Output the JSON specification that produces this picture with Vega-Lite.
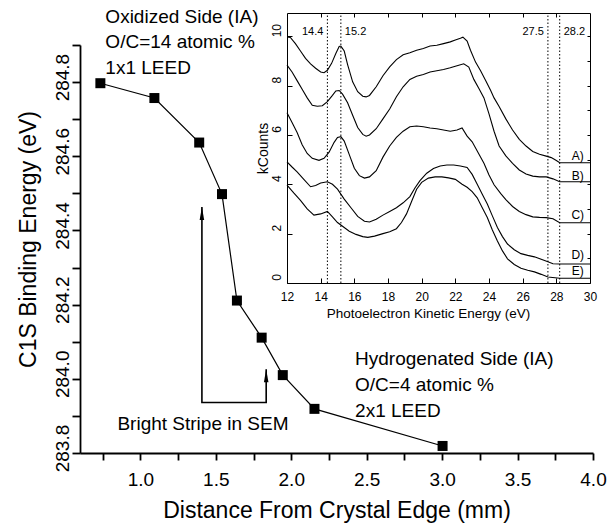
{
  "$schema": "https://vega.github.io/schema/vega-lite/v6.json",
  "width": 513,
  "height": 440,
  "autosize": "none",
  "padding": {"left": 80, "top": 13, "right": 23, "bottom": 72},
  "background": "white",
  "config": {
    "view": {"stroke": null},
    "font": "Liberation Sans",
    "axis": {"grid": false, "domainColor": "black", "tickColor": "black", "labelColor": "black", "titleColor": "black", "labelFont": "Liberation Sans", "titleFont": "Liberation Sans", "titleFontWeight": "normal", "labelOverlap": false, "labelFlush": false}
  },
  "datasets": {
    "points": [
      {"dist": 0.735, "be": 284.797},
      {"dist": 1.093, "be": 284.757},
      {"dist": 1.39, "be": 284.637},
      {"dist": 1.541, "be": 284.498},
      {"dist": 1.64, "be": 284.211},
      {"dist": 1.804, "be": 284.111},
      {"dist": 1.944, "be": 284.01},
      {"dist": 2.154, "be": 283.919},
      {"dist": 3.003, "be": 283.819}
    ],
    "arrow": [
      {"step": 1, "dist": 1.408, "be": 284.463},
      {"step": 2, "dist": 1.408, "be": 283.936},
      {"step": 3, "dist": 1.834, "be": 283.936},
      {"step": 4, "dist": 1.834, "be": 284.026}
    ],
    "heads": [
      {"dist": 1.408, "be": 284.463},
      {"dist": 1.834, "be": 284.026}
    ],
    "notes": [
      {"text": "Oxidized Side (IA)", "dist": 0.768, "be": 284.96},
      {"text": "O/C=14 atomic %", "dist": 0.768, "be": 284.891},
      {"text": "1x1 LEED", "dist": 0.768, "be": 284.822},
      {"text": "Hydrogenated Side (IA)", "dist": 2.423, "be": 284.037},
      {"text": "O/C=4 atomic %", "dist": 2.423, "be": 283.968},
      {"text": "2x1 LEED", "dist": 2.423, "be": 283.898},
      {"text": "Bright Stripe in SEM", "dist": 0.848, "be": 283.862}
    ],
    "cuts": [
      {"E": 14.4, "side": "L", "kmin": 0, "kmax": 10.94, "klab": 10.17},
      {"E": 15.2, "side": "R", "kmin": 0, "kmax": 10.94, "klab": 10.17},
      {"E": 27.5, "side": "L", "kmin": 0, "kmax": 10.94, "klab": 10.17},
      {"E": 28.2, "side": "R", "kmin": 0, "kmax": 10.94, "klab": 10.17}
    ],
    "clabels": [
      {"label": "A)", "E": 29.27, "k": 5.14},
      {"label": "B)", "E": 29.27, "k": 4.33},
      {"label": "C)", "E": 29.27, "k": 2.75},
      {"label": "D)", "E": 29.27, "k": 1.13},
      {"label": "E)", "E": 29.27, "k": 0.5}
    ],
    "spectra": [
      {"curve": "A", "E": 12.0, "k": 9.97}, {"curve": "A", "E": 12.2, "k": 9.95}, {"curve": "A", "E": 12.5, "k": 9.7}, {"curve": "A", "E": 12.8, "k": 9.4}, {"curve": "A", "E": 13.1, "k": 9.1}, {"curve": "A", "E": 13.4, "k": 8.88}, {"curve": "A", "E": 13.7, "k": 8.7}, {"curve": "A", "E": 14.0, "k": 8.55}, {"curve": "A", "E": 14.2, "k": 8.52}, {"curve": "A", "E": 14.4, "k": 8.62}, {"curve": "A", "E": 14.65, "k": 8.9}, {"curve": "A", "E": 14.9, "k": 9.3}, {"curve": "A", "E": 15.1, "k": 9.58}, {"curve": "A", "E": 15.2, "k": 9.6}, {"curve": "A", "E": 15.4, "k": 9.4}, {"curve": "A", "E": 15.6, "k": 8.85}, {"curve": "A", "E": 15.9, "k": 8.15}, {"curve": "A", "E": 16.2, "k": 7.75}, {"curve": "A", "E": 16.5, "k": 7.57}, {"curve": "A", "E": 16.7, "k": 7.54}, {"curve": "A", "E": 16.9, "k": 7.6}, {"curve": "A", "E": 17.3, "k": 7.95}, {"curve": "A", "E": 17.7, "k": 8.4}, {"curve": "A", "E": 18.1, "k": 8.76}, {"curve": "A", "E": 18.5, "k": 9.05}, {"curve": "A", "E": 18.9, "k": 9.25}, {"curve": "A", "E": 19.3, "k": 9.33}, {"curve": "A", "E": 19.7, "k": 9.43}, {"curve": "A", "E": 20.1, "k": 9.5}, {"curve": "A", "E": 20.5, "k": 9.6}, {"curve": "A", "E": 20.9, "k": 9.63}, {"curve": "A", "E": 21.3, "k": 9.7}, {"curve": "A", "E": 21.7, "k": 9.77}, {"curve": "A", "E": 22.0, "k": 9.85}, {"curve": "A", "E": 22.3, "k": 9.92}, {"curve": "A", "E": 22.45, "k": 9.96}, {"curve": "A", "E": 22.7, "k": 9.8}, {"curve": "A", "E": 22.9, "k": 9.43}, {"curve": "A", "E": 23.2, "k": 8.95}, {"curve": "A", "E": 23.5, "k": 8.6}, {"curve": "A", "E": 23.8, "k": 8.2}, {"curve": "A", "E": 24.1, "k": 7.8}, {"curve": "A", "E": 24.3, "k": 7.5}, {"curve": "A", "E": 24.6, "k": 7.15}, {"curve": "A", "E": 25.0, "k": 6.65}, {"curve": "A", "E": 25.4, "k": 6.2}, {"curve": "A", "E": 25.8, "k": 5.82}, {"curve": "A", "E": 26.2, "k": 5.55}, {"curve": "A", "E": 26.6, "k": 5.33}, {"curve": "A", "E": 27.0, "k": 5.22}, {"curve": "A", "E": 27.4, "k": 5.14}, {"curve": "A", "E": 27.7, "k": 5.08}, {"curve": "A", "E": 28.0, "k": 4.96}, {"curve": "A", "E": 28.2, "k": 4.87}, {"curve": "A", "E": 30.0, "k": 4.87},
      {"curve": "B", "E": 12.0, "k": 8.83}, {"curve": "B", "E": 12.3, "k": 8.55}, {"curve": "B", "E": 12.6, "k": 8.2}, {"curve": "B", "E": 12.9, "k": 7.85}, {"curve": "B", "E": 13.2, "k": 7.5}, {"curve": "B", "E": 13.5, "k": 7.2}, {"curve": "B", "E": 13.8, "k": 7.16}, {"curve": "B", "E": 14.1, "k": 7.18}, {"curve": "B", "E": 14.4, "k": 7.35}, {"curve": "B", "E": 14.7, "k": 7.6}, {"curve": "B", "E": 14.9, "k": 7.78}, {"curve": "B", "E": 15.1, "k": 7.8}, {"curve": "B", "E": 15.3, "k": 7.65}, {"curve": "B", "E": 15.6, "k": 7.3}, {"curve": "B", "E": 15.9, "k": 6.8}, {"curve": "B", "E": 16.2, "k": 6.3}, {"curve": "B", "E": 16.5, "k": 6.02}, {"curve": "B", "E": 16.7, "k": 5.95}, {"curve": "B", "E": 16.9, "k": 6.0}, {"curve": "B", "E": 17.3, "k": 6.25}, {"curve": "B", "E": 17.7, "k": 6.65}, {"curve": "B", "E": 18.1, "k": 7.05}, {"curve": "B", "E": 18.5, "k": 7.55}, {"curve": "B", "E": 18.9, "k": 7.95}, {"curve": "B", "E": 19.3, "k": 8.25}, {"curve": "B", "E": 19.7, "k": 8.38}, {"curve": "B", "E": 20.1, "k": 8.45}, {"curve": "B", "E": 20.5, "k": 8.55}, {"curve": "B", "E": 20.9, "k": 8.6}, {"curve": "B", "E": 21.3, "k": 8.65}, {"curve": "B", "E": 21.7, "k": 8.72}, {"curve": "B", "E": 22.1, "k": 8.8}, {"curve": "B", "E": 22.5, "k": 8.88}, {"curve": "B", "E": 22.8, "k": 8.75}, {"curve": "B", "E": 23.1, "k": 8.25}, {"curve": "B", "E": 23.4, "k": 7.88}, {"curve": "B", "E": 23.7, "k": 7.5}, {"curve": "B", "E": 24.0, "k": 6.85}, {"curve": "B", "E": 24.3, "k": 6.15}, {"curve": "B", "E": 24.6, "k": 5.55}, {"curve": "B", "E": 25.0, "k": 5.15}, {"curve": "B", "E": 25.4, "k": 4.85}, {"curve": "B", "E": 25.8, "k": 4.58}, {"curve": "B", "E": 26.2, "k": 4.42}, {"curve": "B", "E": 26.6, "k": 4.33}, {"curve": "B", "E": 27.0, "k": 4.3}, {"curve": "B", "E": 27.4, "k": 4.3}, {"curve": "B", "E": 27.8, "k": 4.22}, {"curve": "B", "E": 28.2, "k": 4.1}, {"curve": "B", "E": 30.0, "k": 4.1},
      {"curve": "C", "E": 12.0, "k": 6.9}, {"curve": "C", "E": 12.3, "k": 6.5}, {"curve": "C", "E": 12.6, "k": 6.1}, {"curve": "C", "E": 12.9, "k": 5.6}, {"curve": "C", "E": 13.2, "k": 5.25}, {"curve": "C", "E": 13.5, "k": 5.05}, {"curve": "C", "E": 13.9, "k": 4.97}, {"curve": "C", "E": 14.2, "k": 5.05}, {"curve": "C", "E": 14.5, "k": 5.3}, {"curve": "C", "E": 14.8, "k": 5.7}, {"curve": "C", "E": 15.0, "k": 5.9}, {"curve": "C", "E": 15.2, "k": 5.93}, {"curve": "C", "E": 15.4, "k": 5.75}, {"curve": "C", "E": 15.7, "k": 5.2}, {"curve": "C", "E": 16.0, "k": 4.65}, {"curve": "C", "E": 16.3, "k": 4.35}, {"curve": "C", "E": 16.6, "k": 4.25}, {"curve": "C", "E": 16.9, "k": 4.3}, {"curve": "C", "E": 17.3, "k": 4.55}, {"curve": "C", "E": 17.7, "k": 5.1}, {"curve": "C", "E": 18.1, "k": 5.55}, {"curve": "C", "E": 18.5, "k": 5.9}, {"curve": "C", "E": 18.9, "k": 6.15}, {"curve": "C", "E": 19.3, "k": 6.33}, {"curve": "C", "E": 19.7, "k": 6.36}, {"curve": "C", "E": 20.1, "k": 6.33}, {"curve": "C", "E": 20.5, "k": 6.28}, {"curve": "C", "E": 20.9, "k": 6.25}, {"curve": "C", "E": 21.3, "k": 6.2}, {"curve": "C", "E": 21.7, "k": 6.15}, {"curve": "C", "E": 22.1, "k": 6.2}, {"curve": "C", "E": 22.4, "k": 6.28}, {"curve": "C", "E": 22.7, "k": 5.95}, {"curve": "C", "E": 23.0, "k": 5.72}, {"curve": "C", "E": 23.3, "k": 5.35}, {"curve": "C", "E": 23.7, "k": 4.85}, {"curve": "C", "E": 24.0, "k": 4.38}, {"curve": "C", "E": 24.3, "k": 3.98}, {"curve": "C", "E": 24.7, "k": 3.62}, {"curve": "C", "E": 25.0, "k": 3.38}, {"curve": "C", "E": 25.4, "k": 3.1}, {"curve": "C", "E": 25.8, "k": 2.9}, {"curve": "C", "E": 26.2, "k": 2.77}, {"curve": "C", "E": 26.6, "k": 2.68}, {"curve": "C", "E": 27.0, "k": 2.66}, {"curve": "C", "E": 27.4, "k": 2.65}, {"curve": "C", "E": 27.8, "k": 2.6}, {"curve": "C", "E": 28.2, "k": 2.44}, {"curve": "C", "E": 30.0, "k": 2.44},
      {"curve": "D", "E": 12.0, "k": 4.91}, {"curve": "D", "E": 12.3, "k": 4.7}, {"curve": "D", "E": 12.6, "k": 4.5}, {"curve": "D", "E": 13.0, "k": 4.2}, {"curve": "D", "E": 13.4, "k": 3.9}, {"curve": "D", "E": 13.7, "k": 3.95}, {"curve": "D", "E": 14.0, "k": 4.05}, {"curve": "D", "E": 14.4, "k": 4.1}, {"curve": "D", "E": 14.7, "k": 4.0}, {"curve": "D", "E": 15.0, "k": 3.8}, {"curve": "D", "E": 15.4, "k": 3.4}, {"curve": "D", "E": 15.8, "k": 3.05}, {"curve": "D", "E": 16.2, "k": 2.7}, {"curve": "D", "E": 16.6, "k": 2.5}, {"curve": "D", "E": 16.9, "k": 2.47}, {"curve": "D", "E": 17.3, "k": 2.58}, {"curve": "D", "E": 17.7, "k": 2.75}, {"curve": "D", "E": 18.1, "k": 2.9}, {"curve": "D", "E": 18.5, "k": 3.05}, {"curve": "D", "E": 18.9, "k": 3.25}, {"curve": "D", "E": 19.3, "k": 3.5}, {"curve": "D", "E": 19.6, "k": 3.85}, {"curve": "D", "E": 19.9, "k": 4.15}, {"curve": "D", "E": 20.3, "k": 4.45}, {"curve": "D", "E": 20.7, "k": 4.64}, {"curve": "D", "E": 21.1, "k": 4.74}, {"curve": "D", "E": 21.5, "k": 4.78}, {"curve": "D", "E": 21.9, "k": 4.78}, {"curve": "D", "E": 22.3, "k": 4.74}, {"curve": "D", "E": 22.7, "k": 4.68}, {"curve": "D", "E": 23.0, "k": 4.4}, {"curve": "D", "E": 23.3, "k": 4.0}, {"curve": "D", "E": 23.6, "k": 3.6}, {"curve": "D", "E": 23.9, "k": 3.2}, {"curve": "D", "E": 24.2, "k": 2.72}, {"curve": "D", "E": 24.5, "k": 2.25}, {"curve": "D", "E": 24.8, "k": 1.88}, {"curve": "D", "E": 25.1, "k": 1.58}, {"curve": "D", "E": 25.5, "k": 1.35}, {"curve": "D", "E": 25.9, "k": 1.19}, {"curve": "D", "E": 26.3, "k": 1.12}, {"curve": "D", "E": 26.7, "k": 1.06}, {"curve": "D", "E": 27.1, "k": 0.96}, {"curve": "D", "E": 27.5, "k": 0.86}, {"curve": "D", "E": 27.8, "k": 0.78}, {"curve": "D", "E": 28.2, "k": 0.77}, {"curve": "D", "E": 30.0, "k": 0.77},
      {"curve": "E", "E": 12.0, "k": 3.97}, {"curve": "E", "E": 12.4, "k": 3.65}, {"curve": "E", "E": 12.8, "k": 3.35}, {"curve": "E", "E": 13.2, "k": 3.0}, {"curve": "E", "E": 13.6, "k": 2.75}, {"curve": "E", "E": 14.0, "k": 2.8}, {"curve": "E", "E": 14.4, "k": 2.9}, {"curve": "E", "E": 14.7, "k": 2.68}, {"curve": "E", "E": 15.0, "k": 2.45}, {"curve": "E", "E": 15.3, "k": 2.3}, {"curve": "E", "E": 15.7, "k": 2.1}, {"curve": "E", "E": 16.1, "k": 1.97}, {"curve": "E", "E": 16.5, "k": 1.88}, {"curve": "E", "E": 16.8, "k": 1.85}, {"curve": "E", "E": 17.2, "k": 1.9}, {"curve": "E", "E": 17.7, "k": 2.0}, {"curve": "E", "E": 18.1, "k": 2.08}, {"curve": "E", "E": 18.5, "k": 2.2}, {"curve": "E", "E": 18.8, "k": 2.45}, {"curve": "E", "E": 19.1, "k": 2.8}, {"curve": "E", "E": 19.4, "k": 3.3}, {"curve": "E", "E": 19.7, "k": 3.8}, {"curve": "E", "E": 20.0, "k": 4.08}, {"curve": "E", "E": 20.4, "k": 4.25}, {"curve": "E", "E": 20.8, "k": 4.3}, {"curve": "E", "E": 21.2, "k": 4.3}, {"curve": "E", "E": 21.6, "k": 4.26}, {"curve": "E", "E": 22.0, "k": 4.2}, {"curve": "E", "E": 22.4, "k": 4.0}, {"curve": "E", "E": 22.7, "k": 3.88}, {"curve": "E", "E": 23.0, "k": 3.7}, {"curve": "E", "E": 23.3, "k": 3.45}, {"curve": "E", "E": 23.6, "k": 3.05}, {"curve": "E", "E": 23.9, "k": 2.65}, {"curve": "E", "E": 24.2, "k": 2.15}, {"curve": "E", "E": 24.5, "k": 1.7}, {"curve": "E", "E": 24.8, "k": 1.3}, {"curve": "E", "E": 25.1, "k": 0.98}, {"curve": "E", "E": 25.5, "k": 0.75}, {"curve": "E", "E": 25.9, "k": 0.6}, {"curve": "E", "E": 26.3, "k": 0.52}, {"curve": "E", "E": 26.7, "k": 0.45}, {"curve": "E", "E": 27.1, "k": 0.35}, {"curve": "E", "E": 27.5, "k": 0.24}, {"curve": "E", "E": 28.2, "k": 0.19}, {"curve": "E", "E": 30.0, "k": 0.19}
    ]
  },
  "resolve": {"scale": {"x": "independent", "y": "independent"}, "axis": {"x": "independent", "y": "independent"}},
  "layer": [
    {
      "encoding": {
        "x": {"field": "dist", "type": "quantitative",
          "scale": {"domain": [0.6, 4.0], "nice": false, "zero": false},
          "axis": {"orient": "bottom", "values": [0.75, 1.0, 1.25, 1.5, 1.75, 2.0, 2.25, 2.5, 2.75, 3.0, 3.25, 3.5, 3.75, 4.0],
            "labelExpr": "round(datum.value*4) % 2 == 0 ? format(datum.value, '.1f') : ''",
            "tickSize": 7, "tickWidth": 1.8, "domainWidth": 1.8, "labelFontSize": 19, "labelPadding": 25, "labelBaseline": "alphabetic",
            "title": "Distance From Crystal Edge (mm)", "titleFontSize": 23, "titleY": 64, "titleBaseline": "alphabetic"}},
        "y": {"field": "be", "type": "quantitative",
          "scale": {"domain": [283.8, 284.9], "range": [440, 32], "nice": false, "zero": false},
          "axis": {"orient": "left", "values": [283.8, 283.9, 284.0, 284.1, 284.2, 284.3, 284.4, 284.5, 284.6, 284.7, 284.8, 284.9],
            "labelExpr": "round(datum.value*10) % 2 == 0 ? format(datum.value, '.1f') : ''",
            "tickSize": 8, "tickWidth": 1.8, "domainWidth": 1.8, "labelFontSize": 19, "labelAngle": -90, "labelAlign": "center", "labelBaseline": "alphabetic", "labelOffset": -5, "labelPadding": 4,
            "title": "C1S Binding Energy (eV)", "titleFontSize": 23, "titleX": -45, "titleY": 226, "titleBaseline": "alphabetic", "titleAlign": "center", "titleAngle": -90}}
      },
      "layer": [
        {"data": {"name": "points"}, "mark": {"type": "line", "color": "black", "strokeWidth": 1.2}},
        {"data": {"name": "points"}, "mark": {"type": "point", "shape": "square", "filled": true, "size": 100, "color": "black", "opacity": 1}},
        {"data": {"name": "arrow"}, "mark": {"type": "line", "color": "black", "strokeWidth": 1.6}, "encoding": {"order": {"field": "step", "type": "quantitative"}}},
        {"data": {"name": "heads"}, "mark": {"type": "point", "shape": "M0,0L-0.35,2L0.35,2Z", "filled": true, "size": 169, "color": "black", "opacity": 1, "strokeWidth": 0}},
        {"data": {"name": "notes"}, "mark": {"type": "text", "align": "left", "baseline": "alphabetic", "fontSize": 19, "color": "black", "font": "Liberation Sans"}, "encoding": {"text": {"field": "text", "type": "nominal"}}}
      ]
    },
    {
      "encoding": {
        "x": {"field": "E", "type": "quantitative",
          "scale": {"domain": [12, 30], "range": [207, 510], "nice": false, "zero": false},
          "axis": {"orient": "bottom", "offset": -170, "values": [12, 14, 16, 18, 20, 22, 24, 26, 28, 30], "domain": true, "domainWidth": 1,
            "tickSize": -5, "tickWidth": 1, "labelFontSize": 12, "labelPadding": 22, "labelBaseline": "alphabetic",
            "title": "Photoelectron Kinetic Energy (eV)", "titleFontSize": 13.5, "titleX": 348, "titleY": 34, "titleBaseline": "alphabetic", "titleAlign": "center"}},
        "y": {"field": "k", "type": "quantitative",
          "scale": {"domain": [0, 10.94], "range": [270, 0], "nice": false, "zero": false},
          "axis": {"orient": "left", "offset": -207, "values": [0, 2, 4, 6, 8, 10], "domain": true, "domainWidth": 1,
            "tickSize": -5, "tickWidth": 1, "labelFontSize": 12, "labelAngle": -90, "labelAlign": "center", "labelBaseline": "alphabetic", "labelOffset": -6, "labelPadding": 12,
            "title": "kCounts", "titleFontSize": 14, "titleX": -20, "titleY": 135, "titleBaseline": "alphabetic", "titleAlign": "center", "titleAngle": -90}}
      },
      "layer": [
        {"data": {"name": "cuts"}, "mark": {"type": "rule", "color": "black", "strokeWidth": 1, "strokeDash": [1.5, 2]},
          "encoding": {"y": {"field": "kmin", "type": "quantitative"}, "y2": {"field": "kmax"}}},
        {"data": {"name": "cuts"}, "transform": [{"filter": "datum.side == 'L'"}], "mark": {"type": "text", "align": "right", "baseline": "middle", "dx": -4, "fontSize": 11, "color": "black"},
          "encoding": {"y": {"field": "klab", "type": "quantitative"}, "text": {"field": "E", "type": "quantitative", "format": ".1f"}}},
        {"data": {"name": "cuts"}, "transform": [{"filter": "datum.side == 'R'"}], "mark": {"type": "text", "align": "left", "baseline": "middle", "dx": 4, "fontSize": 11, "color": "black"},
          "encoding": {"y": {"field": "klab", "type": "quantitative"}, "text": {"field": "E", "type": "quantitative", "format": ".1f"}}},
        {"data": {"name": "spectra"}, "mark": {"type": "line", "color": "black", "strokeWidth": 1.1}, "encoding": {"detail": {"field": "curve", "type": "nominal"}}}
      ]
    },
    {
      "data": {"name": "clabels"},
      "mark": {"type": "text", "align": "center", "baseline": "middle", "fontSize": 12, "color": "black"},
      "encoding": {
        "x": {"field": "E", "type": "quantitative",
          "scale": {"domain": [12, 30], "range": [207, 510], "nice": false, "zero": false},
          "axis": {"orient": "top", "offset": 0, "values": [14, 16, 18, 20, 22, 24, 26, 28], "labels": false, "title": null, "domain": true, "domainWidth": 1, "tickSize": -4, "tickWidth": 1}},
        "y": {"field": "k", "type": "quantitative",
          "scale": {"domain": [0, 10.94], "range": [270, 0], "nice": false, "zero": false},
          "axis": {"orient": "right", "offset": -3, "values": [1, 2, 3, 4, 5, 6, 7, 8, 9, 10], "labels": false, "title": null, "domain": true, "domainWidth": 1, "tickSize": -3, "tickWidth": 1}},
        "text": {"field": "label", "type": "nominal"}
      }
    }
  ]
}
